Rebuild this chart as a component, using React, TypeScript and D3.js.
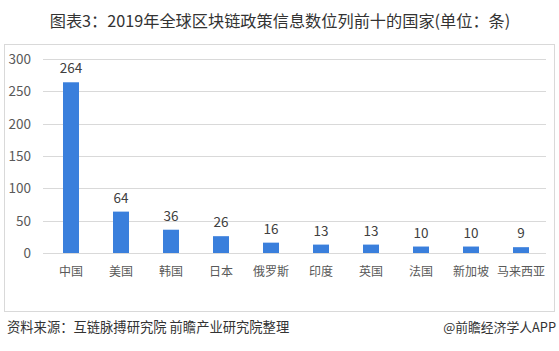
import { useEffect, useRef } from 'react';
import * as d3 from 'd3';

const countries = ['中国', '美国', '韩国', '日本', '俄罗斯', '印度', '英国', '法国', '新加坡', '马来西亚'];
const counts = [264, 64, 36, 26, 16, 13, 13, 10, 10, 9];
const yTicks = [0, 50, 100, 150, 200, 250, 300];

const title = '图表3：2019年全球区块链政策信息数位列前十的国家(单位：条)';
const source = '资料来源：互链脉搏研究院 前瞻产业研究院整理';
const credit = '@前瞻经济学人APP';

const App = () => {
    const svgRef = useRef<SVGSVGElement>(null);

    useEffect(() => {
        const width = 559;
        const height = 351;
        const svg = d3.select(svgRef.current);
        svg.selectAll('*').remove();
        svg.attr('width', width).attr('height', height);

        const font = '"Microsoft YaHei", "Noto Sans CJK SC", sans-serif';

        // title
        svg.append('text')
            .attr('x', 280)
            .attr('y', 27)
            .attr('text-anchor', 'middle')
            .attr('font-family', font)
            .attr('font-size', 16.2)
            .attr('fill', '#333')
            .text(title);

        // panel frame
        svg.append('rect')
            .attr('x', 4.5)
            .attr('y', 44.5)
            .attr('width', 550)
            .attr('height', 267)
            .attr('fill', '#fff')
            .attr('stroke', '#d9d9d9');

        const x = d3.scaleBand()
            .domain(countries)
            .range([46, 546])
            .paddingInner(0.68)
            .paddingOuter(0.34);

        const y = d3.scaleLinear()
            .domain([0, 300])
            .range([253, 59]);

        // gridlines
        svg.append('g')
            .selectAll('line')
            .data(yTicks)
            .enter().append('line')
            .attr('x1', 43)
            .attr('x2', 546)
            .attr('y1', d => Math.round(y(d)) + 0.5)
            .attr('y2', d => Math.round(y(d)) + 0.5)
            .attr('stroke', '#d9d9d9');

        // y tick labels
        svg.append('g')
            .selectAll('text')
            .data(yTicks)
            .enter().append('text')
            .attr('x', 31)
            .attr('y', d => y(d) + 5)
            .attr('text-anchor', 'end')
            .attr('font-family', font)
            .attr('font-size', 13.5)
            .attr('fill', '#595959')
            .text(d => d);

        // bars
        svg.append('g')
            .selectAll('rect')
            .data(counts)
            .enter().append('rect')
            .attr('x', (d, i) => x(countries[i]) as number)
            .attr('width', x.bandwidth())
            .attr('y', d => y(d))
            .attr('height', d => y(0) - y(d))
            .attr('fill', '#3a7fdc');

        // value labels
        svg.append('g')
            .selectAll('text')
            .data(counts)
            .enter().append('text')
            .attr('x', (d, i) => (x(countries[i]) as number) + x.bandwidth() / 2)
            .attr('y', d => y(d) - 9)
            .attr('text-anchor', 'middle')
            .attr('font-family', font)
            .attr('font-size', 13.5)
            .attr('fill', '#404040')
            .text(d => d);

        // category labels
        svg.append('g')
            .selectAll('text')
            .data(countries)
            .enter().append('text')
            .attr('x', d => (x(d) as number) + x.bandwidth() / 2)
            .attr('y', 276)
            .attr('text-anchor', 'middle')
            .attr('font-family', font)
            .attr('font-size', 12)
            .attr('fill', '#595959')
            .text(d => d);

        // footer
        svg.append('text')
            .attr('x', 7)
            .attr('y', 332)
            .attr('font-family', font)
            .attr('font-size', 13.3)
            .attr('fill', '#333')
            .text(source);

        svg.append('text')
            .attr('x', 556)
            .attr('y', 332)
            .attr('text-anchor', 'end')
            .attr('font-family', font)
            .attr('font-size', 12.8)
            .attr('fill', '#333')
            .text(credit);
    }, []);

    return (
        <div style={{ position: 'absolute', left: 0, top: 0 }}>
            <svg ref={svgRef} style={{ display: 'block' }}></svg>
        </div>
    );
};

export default App;
